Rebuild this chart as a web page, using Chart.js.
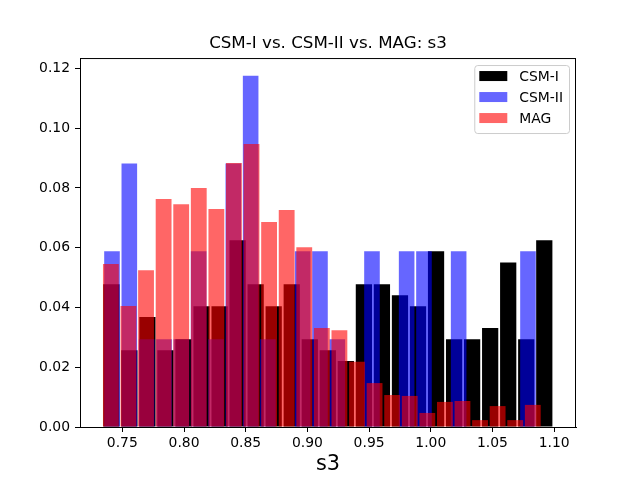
<!DOCTYPE html>
<html>
<head>
<meta charset="utf-8">
<title>CSM-I vs. CSM-II vs. MAG: s3</title>
<script src="https://cdn.jsdelivr.net/npm/chart.js@4.4.0/dist/chart.umd.min.js"></script>
<style>
  html, body { margin: 0; padding: 0; background: #fff; }
  canvas { display: block; }
</style>
</head>
<body>
<canvas id="histChart" width="640" height="480"></canvas>
<script>
const seriesNames = ["CSM-I", "CSM-II", "MAG"];

// histogram bin ranges (25 bins each)
const csm1Range = [0.7338, 1.0993];
const csm2Range = [0.7346, 1.0858];
const magRange = [0.7336, 1.0898];

// bin weights (fraction of samples per bin)
const csm1Values = [0.0478, 0.0257, 0.0368, 0.0257, 0.0294, 0.0404, 0.0404, 0.0625, 0.0478, 0.0404,
  0.0478, 0.0294, 0.0257, 0.0221, 0.0478, 0.0478, 0.0441, 0.0404, 0.0588, 0.0294,
  0.0294, 0.0331, 0.0551, 0.0294, 0.0625];
const csm2Values = [0.0588, 0.0882, 0.0294, 0.0294, 0.0294, 0.0588, 0.0294, 0.0882, 0.1176, 0.0294,
  0, 0.0588, 0.0588, 0.0294, 0, 0.0588, 0, 0.0588, 0.0588, 0,
  0.0588, 0, 0, 0, 0.0588];
const magValues = [0.0546, 0.0405, 0.0525, 0.0763, 0.0746, 0.0800, 0.0730, 0.0884, 0.0947, 0.0686,
  0.0726, 0.0602, 0.0331, 0.0324, 0.0218, 0.0147, 0.0107, 0.0104, 0.0047, 0.0084,
  0.0087, 0.0023, 0.0070, 0.0023, 0.0074];

const xLimits = [0.7157, 1.1177];
const yLimits = [0, 0.1235];

Chart.defaults.font.family = "'DejaVu Sans', sans-serif";
Chart.defaults.color = "#000";

function binCenters(range, n) {
  const width = (range[1] - range[0]) / n;
  return Array.from({ length: n }, (_, i) => range[0] + width * (i + 0.5));
}

function toPoints(range, values) {
  const centers = binCenters(range, values.length);
  return values.map((v, i) => ({ x: centers[i], y: v }));
}

// matplotlib style frame + legend box inside the axes
const framePlugin = {
  id: "frame",
  afterDatasetsDraw(chart) {
    const { ctx, chartArea } = chart;
    ctx.save();
    ctx.strokeStyle = "#000";
    ctx.lineWidth = 1;
    ctx.strokeRect(chartArea.left + 0.5, chartArea.top + 0.5,
      chartArea.right - chartArea.left - 1, chartArea.bottom - chartArea.top);
    ctx.restore();
  },
  afterDraw(chart) {
    const { ctx, chartArea } = chart;
    const sets = chart.data.datasets;
    ctx.save();
    ctx.font = "13.9px 'DejaVu Sans', sans-serif";
    const maxW = Math.max(...sets.map(d => ctx.measureText(d.label).width));
    const boxW = 5 + 28 + 12 + maxW + 6;
    const boxH = 68;
    const right = chartArea.right - 7;
    const left = right - boxW;
    const top = chartArea.top + 7;

    ctx.beginPath();
    ctx.roundRect(left + 0.5, top + 0.5, boxW, boxH, 3);
    ctx.fillStyle = "rgba(255,255,255,0.8)";
    ctx.fill();
    ctx.strokeStyle = "#cccccc";
    ctx.lineWidth = 1;
    ctx.stroke();

    sets.forEach((d, i) => {
      const cy = top + 11 + i * 21;
      ctx.fillStyle = "#fff";
      ctx.fillRect(left + 5, cy - 5, 28, 10);
      ctx.fillStyle = d.backgroundColor;
      ctx.fillRect(left + 5, cy - 5, 28, 10);
      ctx.fillStyle = "#000";
      ctx.textBaseline = "middle";
      ctx.textAlign = "left";
      ctx.fillText(d.label, left + 45, cy + 1);
    });
    ctx.restore();
  }
};

const xBase = { type: "linear", min: xLimits[0], max: xLimits[1], offset: false };

new Chart(document.getElementById("histChart"), {
  type: "bar",
  data: {
    datasets: [
      { label: seriesNames[0], data: toPoints(csm1Range, csm1Values), xAxisID: "x",
        backgroundColor: "rgba(0,0,0,1)", order: 3 },
      { label: seriesNames[1], data: toPoints(csm2Range, csm2Values), xAxisID: "x2",
        backgroundColor: "rgba(0,0,255,0.6)", order: 2 },
      { label: seriesNames[2], data: toPoints(magRange, magValues), xAxisID: "x3",
        backgroundColor: "rgba(255,0,0,0.6)", order: 1 }
    ]
  },
  options: {
    responsive: false,
    animation: false,
    layout: { padding: { left: 0, right: 64, top: 0, bottom: 0 } },
    datasets: {
      bar: { grouped: false, categoryPercentage: 1.0, barPercentage: 0.9, borderWidth: 0 }
    },
    plugins: {
      legend: { display: false },
      tooltip: { enabled: false },
      title: {
        display: true,
        fullSize: false,
        text: "CSM-I vs. CSM-II vs. MAG: s3",
        color: "#000",
        font: { size: 16.7, weight: "normal" },
        padding: { top: 34, bottom: 4 }
      }
    },
    scales: {
      x: {
        ...xBase,
        position: "bottom",
        grid: { drawOnChartArea: false, drawTicks: true, tickLength: 5, color: "#000", offset: false },
        border: { display: true, color: "#000" },
        ticks: {
          stepSize: 0.05, includeBounds: false, padding: 3, maxRotation: 0, autoSkip: false,
          font: { size: 13.9 }, callback: v => v.toFixed(2)
        },
        title: { display: true, text: "s3", font: { size: 20.8 }, padding: { top: 0, bottom: 3 } },
        afterFit: s => { s.height = 53; }
      },
      x2: { ...xBase, display: false, ticks: { stepSize: 0.05, includeBounds: false } },
      x3: { ...xBase, display: false, ticks: { stepSize: 0.05, includeBounds: false } },
      y: {
        type: "linear",
        min: yLimits[0],
        max: yLimits[1],
        grid: { drawOnChartArea: false, drawTicks: true, tickLength: 5, color: "#000" },
        border: { display: true, color: "#000" },
        ticks: {
          stepSize: 0.02, includeBounds: false, padding: 5,
          font: { size: 13.9 }, callback: v => v.toFixed(2)
        },
        afterFit: s => { s.width = 80; }
      }
    }
  },
  plugins: [framePlugin]
});
</script>
</body>
</html>
